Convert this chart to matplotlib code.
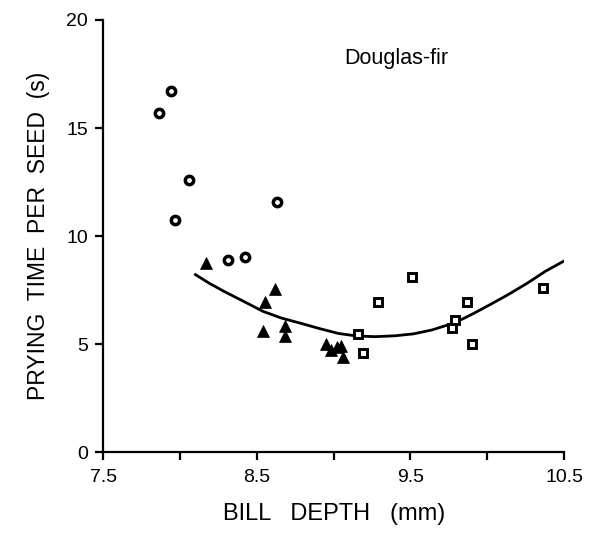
import matplotlib.pyplot as plt

plt.rcParams['font.family'] = ['Liberation Sans', 'DejaVu Sans']

# open circles
circle_x = [7.86, 7.94, 8.06, 7.97, 8.63, 8.31, 8.42]
circle_y = [15.7, 16.7, 12.6, 10.75, 11.6, 8.9, 9.05]

# filled triangles
tri_x = [8.17, 8.55, 8.62, 8.54, 8.68, 8.68, 8.95, 8.98, 9.02, 9.05, 9.06]
tri_y = [8.75, 6.95, 7.55, 5.6, 5.85, 5.4, 5.0, 4.75, 4.85, 4.9, 4.4]

# open squares
sq_x = [9.16, 9.19, 9.29, 9.51, 9.77, 9.79, 9.87, 9.90, 10.36]
sq_y = [5.47, 4.6, 6.96, 8.1, 5.75, 6.1, 6.96, 5.0, 7.62]

# fitted curve
fit_x = [8.10, 8.19, 8.29, 8.42, 8.54, 8.66, 8.78, 8.91, 9.03, 9.15, 9.27,
         9.40, 9.52, 9.64, 9.76, 9.84, 9.91, 10.01, 10.13, 10.26, 10.38, 10.50]
fit_y = [8.22, 7.82, 7.43, 6.96, 6.52, 6.21, 5.98, 5.72, 5.50, 5.38, 5.35,
         5.39, 5.48, 5.66, 5.93, 6.17, 6.42, 6.80, 7.27, 7.82, 8.38, 8.85]

fig = plt.figure(figsize=(5.89, 5.33), dpi=100)
ax = fig.add_axes([0.1754, 0.1514, 0.7822, 0.8111])

ax.plot(fit_x, fit_y, color='black', lw=2.0, zorder=2, solid_joinstyle='round')
ax.plot(circle_x, circle_y, 'o', ms=6.0, mfc='white', mec='black', mew=2.5, zorder=3)
ax.plot(tri_x, tri_y, '^', ms=8.3, mfc='black', mec='black', mew=0.5, zorder=3)
ax.plot(sq_x, sq_y, 's', ms=6.2, mfc='white', mec='black', mew=2.1, zorder=3)

ax.text(9.41, 18.2, 'Douglas-fir', fontsize=15.5, ha='center', va='center')

ax.set_xlim(7.5, 10.5)
ax.set_ylim(0, 20)
ax.set_xticks([7.5, 8.5, 9.5, 10.5])
ax.set_xticklabels(['7.5', '8.5', '9.5', '10.5'])
ax.set_xticks([8.0, 9.0, 10.0], minor=True)
ax.set_yticks([0, 5, 10, 15, 20])

for side in ['top', 'right']:
    ax.spines[side].set_visible(False)
for side in ['left', 'bottom']:
    ax.spines[side].set_linewidth(1.6)

ax.tick_params(axis='both', which='both', direction='out', length=6, width=1.6,
               labelsize=14)
ax.tick_params(axis='x', pad=6)
ax.tick_params(axis='y', pad=5)

ax.set_xlabel('BILL   DEPTH   (mm)', fontsize=17, labelpad=12)
ax.set_ylabel('PRYING  TIME  PER  SEED  (s)', fontsize=16.5, labelpad=12)

fig.savefig('out.png', dpi=100)
